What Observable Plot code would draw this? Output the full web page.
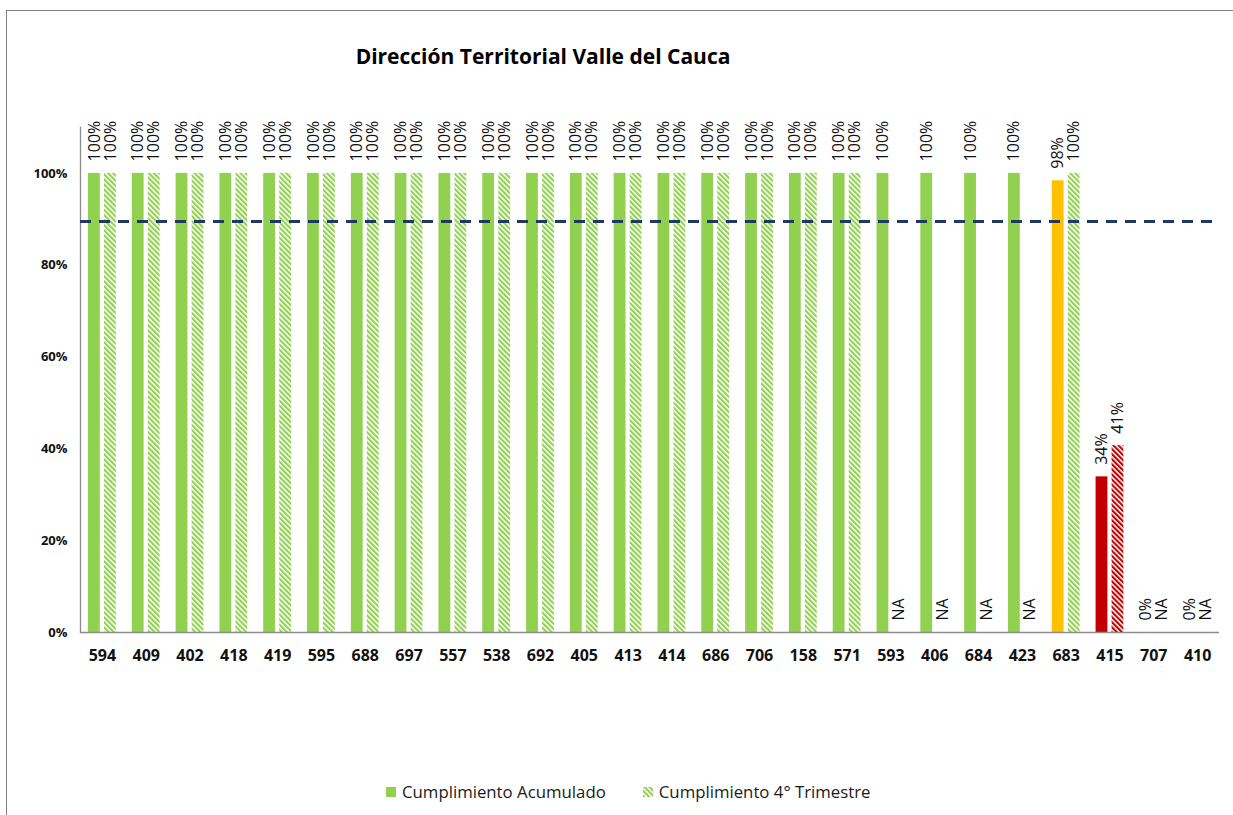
<!DOCTYPE html>
<html>
<head>
<meta charset="utf-8">
<script src="https://cdn.jsdelivr.net/npm/d3@7"></script>
<script src="https://cdn.jsdelivr.net/npm/@observablehq/plot@0.6"></script>
<style>
  html, body { margin: 0; padding: 0; background: #fff; }
  #wrap { position: relative; width: 1233px; height: 815px; overflow: hidden; font-family: "Open Sans", sans-serif; }
  #border { position: absolute; left: 6px; top: 10px; width: 1240px; height: 820px; border-left: 1px solid #808080; border-top: 1px solid #808080; }
  #title { position: absolute; top: 42px; left: 543px; transform: translateX(-50%); font-weight: bold; font-size: 21px; color: #000; white-space: nowrap; }
  #chart { position: absolute; top: 100px; left: 0; }
  #legend { position: absolute; top: 780px; left: 386px; display: flex; align-items: center; font-size: 16.8px; color: #1a1a1a; white-space: nowrap; }
  #legend .item { display: flex; align-items: center; }
  #legend svg { margin-right: 6px; }
</style>
</head>
<body>
<div id="wrap">
  <div id="border"></div>
  <div id="title">Dirección Territorial Valle del Cauca</div>
  <div id="chart"></div>
  <div id="legend"></div>
</div>
<script>
// ---- data ----
const categories = ["594","409","402","418","419","595","688","697","557","538","692","405","413","414","686","706","158","571","593","406","684","423","683","415","707","410"];
const acumulado = [1,1,1,1,1,1,1,1,1,1,1,1,1,1,1,1,1,1,1,1,1,1,0.984,0.339,0,0];
const trimestre = [1,1,1,1,1,1,1,1,1,1,1,1,1,1,1,1,1,1,null,null,null,null,1,0.407,null,null];
const meta = 0.895;
const seriesNames = ["Cumplimiento Acumulado", "Cumplimiento 4° Trimestre"];
const yTicks = [0, 0.2, 0.4, 0.6, 0.8, 1.0];

// ---- helpers ----
const GREEN = "#92D050", YELLOW = "#FFC000", RED = "#C00000";
const semaforo = v => v >= 1 ? "g" : v >= 0.7 ? "y" : "r";
const solidColor = v => ({g: GREEN, y: YELLOW, r: RED})[semaforo(v)];
const hatchFill = v => semaforo(v) === "r" ? "url(#hatch-r)" : "url(#hatch-g)";
const pct = d3.format(".0%");

const rows = categories.map((c, i) => ({c, a: acumulado[i], t: trimestre[i]}));
const rowsT = rows.filter(d => d.t != null);

const plot = Plot.plot({
  width: 1233,
  height: 580,
  marginTop: 27,
  marginBottom: 48,
  marginLeft: 80,
  marginRight: 14,
  style: {fontFamily: "'Open Sans', sans-serif", background: "transparent", color: "#222"},
  x: {type: "band", domain: categories, padding: 0, round: false, axis: null},
  y: {domain: [0, 1.1], axis: null},
  color: {type: "identity"},
  marks: [
    Plot.barY(rows, {x: "c", y: "a", fill: d => solidColor(d.a), insetLeft: 16, insetRight: 16, dx: -8}),
    Plot.barY(rowsT, {x: "c", y: "t", fill: d => hatchFill(d.t), insetLeft: 16, insetRight: 16, dx: 8}),
    Plot.ruleY([0], {stroke: "#8c8c8c", strokeWidth: 1.3}),
    Plot.frame({anchor: "left", stroke: "#8c8c8c", strokeWidth: 1.3}),
    Plot.ruleY([meta], {stroke: "#1F3864", strokeWidth: 3, strokeDasharray: "11,8"}),
    Plot.text(rows, {x: "c", y: "a", text: d => pct(d.a), rotate: -90, textAnchor: "start", lineAnchor: "middle", dx: -8, dy: -12, fontSize: 16, fill: "#111"}),
    Plot.text(rows, {x: "c", y: d => d.t ?? 0, text: d => d.t == null ? "NA" : pct(d.t), rotate: -90, textAnchor: "start", lineAnchor: "middle", dx: 8, dy: -12, fontSize: 16, fill: "#111"}),
    Plot.axisX({tickSize: 0, tickPadding: 17, fontSize: 16, fontWeight: "bold", fill: "#111", label: null}),
    Plot.axisY({ticks: yTicks, tickFormat: pct, tickSize: 0, tickPadding: 13, fontSize: 13, fontWeight: "bold", fill: "#111", label: null})
  ]
});

// patterns
const defs = d3.select(plot).insert("defs", ":first-child");
function addPattern(sel, id, color) {
  const p = sel.append("pattern").attr("id", id).attr("patternUnits", "userSpaceOnUse")
    .attr("width", 3.6).attr("height", 3.6).attr("patternTransform", "rotate(-45)");
  p.append("rect").attr("width", 3.6).attr("height", 3.6).attr("fill", "#fff");
  p.append("rect").attr("width", 2.1).attr("height", 3.6).attr("fill", color);
}
addPattern(defs, "hatch-g", GREEN);
addPattern(defs, "hatch-r", RED);
document.getElementById("chart").appendChild(plot);

// legend
const legend = d3.select("#legend");
const it1 = legend.append("div").attr("class", "item");
it1.append("svg").attr("width", 10).attr("height", 10).append("rect").attr("width", 10).attr("height", 10).attr("fill", GREEN);
it1.append("span").text(seriesNames[0]);
const it2 = legend.append("div").attr("class", "item").style("margin-left", "37px");
const s2 = it2.append("svg").attr("width", 10).attr("height", 10);
addPattern(s2.append("defs"), "hatch-leg", GREEN);
s2.append("rect").attr("width", 10).attr("height", 10).attr("fill", "url(#hatch-leg)");
it2.append("span").text(seriesNames[1]);
</script>
</body>
</html>
